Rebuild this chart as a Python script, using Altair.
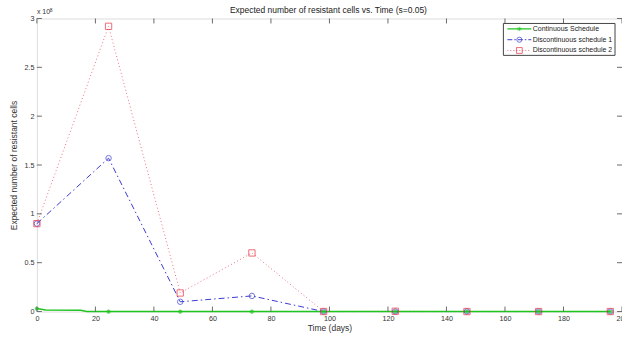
import altair as alt
import pandas as pd

# ---- data ----
times = [0, 24.5, 49, 73.5, 98, 122.5, 147, 171.5, 196]
sched1 = [0.90e8, 1.57e8, 0.10e8, 0.16e8, 0, 0, 0, 0, 0]
sched2 = [0.90e8, 2.92e8, 0.19e8, 0.60e8, 0, 0.003e8, 0, 0, 0]
cont_marker = [0.03e8, 0, 0, 0, 0, 0, 0, 0, 0]
cont_t = [0, 3, 15, 17, 24.5, 49, 73.5, 98, 122.5, 147, 171.5, 196]
cont_v = [0.03e8, 0.016e8, 0.014e8, 0, 0, 0, 0, 0, 0, 0, 0, 0]
series_names = ["Continuous Schedule", "Discontinuous schedule 1", "Discontinuous schedule 2"]
x_ticks = [0, 20, 40, 60, 80, 100, 120, 140, 160, 180, 200]
y_ticks = [0, 0.5e8, 1e8, 1.5e8, 2e8, 2.5e8, 3e8]
title_text = "Expected number of resistant cells vs. Time (s=0.05)"

W, H = 587, 294
FONT = "Liberation Sans"
GREEN, BLUE, RED = "#1fc41f", "#3b3bd0", "#e8303f"
RED_LINE = "#f0707c"
AX = "#6a6a6a"

df_pts = pd.DataFrame({"t": times, "s1": sched1, "s2": sched2, "c": cont_marker})
df_cont = pd.DataFrame({"t": cont_t, "v": cont_v})
df_xt = pd.DataFrame({"t": x_ticks})
df_yt = pd.DataFrame({"v": y_ticks})

xs = alt.Scale(domain=[0, 200], nice=False, zero=False)
ys = alt.Scale(domain=[0, 3e8], nice=False)

x_axis = alt.Axis(values=x_ticks, ticks=False, domain=False, grid=False, title="Time (days)",
                  labelFlush=False, labelOverlap=False,
                  labelFont=FONT, labelFontSize=7.2, labelColor="#333", labelPadding=3,
                  titleFont=FONT, titleFontSize=8.5, titleFontWeight="normal", titleColor="#333",
                  titlePadding=2)
y_axis = alt.Axis(values=y_ticks, ticks=False, domain=False, grid=False,
                  title="Expected number of resistant cells",
                  labelExpr="datum.value/1e8", labelOverlap=False,
                  labelFont=FONT, labelFontSize=7.2, labelColor="#333", labelPadding=3,
                  titleFont=FONT, titleFontSize=8.5, titleFontWeight="normal", titleColor="#333",
                  titlePadding=5)

X = alt.X("t:Q", scale=xs, axis=x_axis)

base = alt.Chart(df_pts)

line2 = base.mark_line(color=RED_LINE, strokeWidth=1, strokeDash=[1, 2.5]).encode(
    x=X, y=alt.Y("s2:Q", scale=ys, axis=y_axis))
line1 = base.mark_line(color=BLUE, strokeWidth=1, strokeDash=[6, 3, 1.5, 3]).encode(
    x=alt.X("t:Q", scale=xs), y=alt.Y("s1:Q", scale=ys))
linec = alt.Chart(df_cont).mark_line(color=GREEN, strokeWidth=1.5).encode(
    x=alt.X("t:Q", scale=xs), y=alt.Y("v:Q", scale=ys))

star = "M-1,0L1,0M0,-1L0,1M-0.7,-0.7L0.7,0.7M-0.7,0.7L0.7,-0.7"
ptc = base.mark_point(shape=star, color=GREEN, size=18, strokeWidth=1.2, filled=False).encode(
    x=alt.X("t:Q", scale=xs), y=alt.Y("c:Q", scale=ys))
pt1 = base.mark_point(shape="circle", color=BLUE, size=30, strokeWidth=1, filled=False).encode(
    x=alt.X("t:Q", scale=xs), y=alt.Y("s1:Q", scale=ys))
pt2 = base.mark_point(shape="square", color=RED, size=40, strokeWidth=1, filled=False).encode(
    x=alt.X("t:Q", scale=xs), y=alt.Y("s2:Q", scale=ys))

# inward ticks (MATLAB style) on all four sides
tb = alt.Chart(df_xt).mark_rule(color=AX, strokeWidth=1).encode(
    x=alt.X("t:Q", scale=xs), y=alt.value(H), y2=alt.value(H - 5))
tt = alt.Chart(df_xt).mark_rule(color=AX, strokeWidth=1).encode(
    x=alt.X("t:Q", scale=xs), y=alt.value(0), y2=alt.value(5))
tl = alt.Chart(df_yt).mark_rule(color=AX, strokeWidth=1).encode(
    y=alt.Y("v:Q", scale=ys), x=alt.value(0), x2=alt.value(5))
tr = alt.Chart(df_yt).mark_rule(color=AX, strokeWidth=1).encode(
    y=alt.Y("v:Q", scale=ys), x=alt.value(W), x2=alt.value(W - 5))

# title and exponent label
title = alt.Chart(pd.DataFrame({"s": [title_text]})).mark_text(
    font=FONT, fontSize=8.5, color="#222", align="center", baseline="middle").encode(
    text="s:N", x=alt.value(W / 2 - 1), y=alt.value(-9))
exp1 = alt.Chart(pd.DataFrame({"s": ["x 10"]})).mark_text(
    font=FONT, fontSize=7, color="#333", align="left", baseline="middle").encode(
    text="s:N", x=alt.value(0), y=alt.value(-6))
exp2 = alt.Chart(pd.DataFrame({"s": ["8"]})).mark_text(
    font=FONT, fontSize=5, color="#333", align="left", baseline="middle").encode(
    text="s:N", x=alt.value(13), y=alt.value(-8.5))

# legend box (annotation)
leg_df = pd.DataFrame({"name": series_names, "i": [0, 1, 2]})
LX0, LX1, LY0, LY1 = 468, 580, 5, 37
leg_box = alt.Chart(pd.DataFrame({"a": [0]})).mark_rect(
    fill="white", stroke="#444", strokeWidth=1).encode(
    x=alt.value(LX0), x2=alt.value(LX1), y=alt.value(LY0), y2=alt.value(LY1))
leg_layers = [leg_box]
dashes = [[1, 0], [5, 2, 1.5, 2], [1, 2]]
line_cols = [GREEN, BLUE, RED_LINE]
cols = [GREEN, BLUE, RED]
shapes = [star, "circle", "square"]
sizes = [18, 26, 34]
for i in range(3):
    yy = 10.5 + i * 10.8
    d = leg_df[leg_df.i == i]
    leg_layers.append(alt.Chart(d).mark_rule(color=line_cols[i], strokeWidth=1 if i else 1.3,
                                             strokeDash=dashes[i]).encode(
        x=alt.value(472), x2=alt.value(496), y=alt.value(yy)))
    leg_layers.append(alt.Chart(d).mark_point(shape=shapes[i], color=cols[i], size=sizes[i],
                                              filled=False, strokeWidth=1).encode(
        x=alt.value(484), y=alt.value(yy)))
    leg_layers.append(alt.Chart(d).mark_text(font=FONT, fontSize=7, color="#222",
                                             align="left", baseline="middle").encode(
        text="name:N", x=alt.value(497.5), y=alt.value(yy)))

chart = alt.layer(line2, line1, linec, ptc, pt1, pt2, tb, tt, tl, tr, title, exp1, exp2,
                  *leg_layers).properties(
    width=W, height=H,
    autosize=alt.AutoSizeParams(type="none"),
    padding={"left": 37, "top": 18, "right": 0, "bottom": 26},
).configure_view(stroke=AX, strokeWidth=1).configure(background="white")

chart.save("out.html", embed_options={"renderer": "svg", "actions": False})
